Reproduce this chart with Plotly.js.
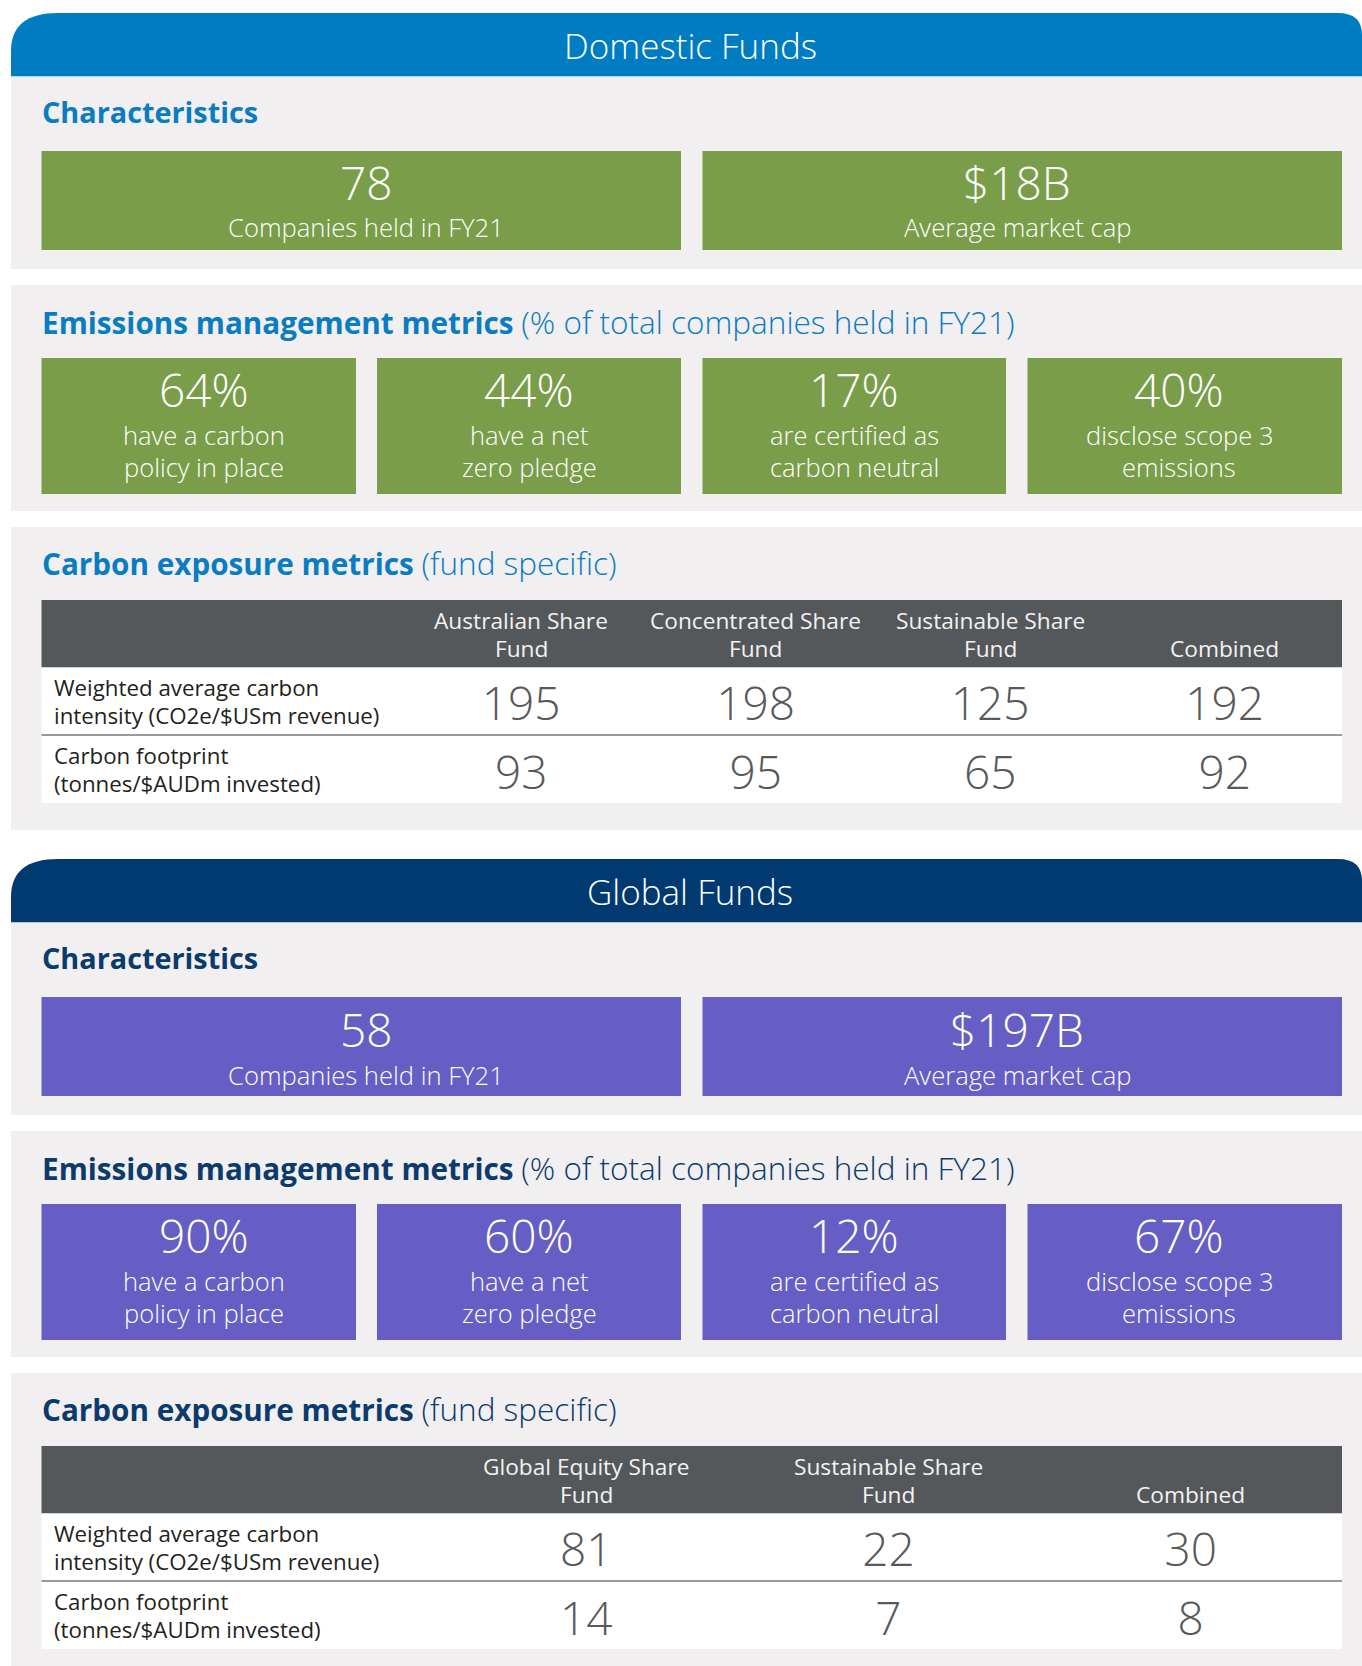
<!DOCTYPE html>
<html><head><meta charset="utf-8">
<script src="https://cdn.plot.ly/plotly-3.0.1.min.js"></script>
<style>html,body{margin:0;padding:0;background:#fff}#chart{width:1362px;height:1666px}</style>
</head><body><div id="chart"></div>
<script>
// ---------------- data ----------------
const sectionTitles = ['Domestic Funds', 'Global Funds'];
const charLabels = ['Companies held in FY21', 'Average market cap'];
const domCharValues = ['78', '$18B'];
const globCharValues = ['58', '$197B'];
const emissionLabels = [
  ['have a carbon', 'policy in place'],
  ['have a net', 'zero pledge'],
  ['are certified as', 'carbon neutral'],
  ['disclose scope 3', 'emissions']
];
const domEmissionPct = [64, 44, 17, 40];
const globEmissionPct = [90, 60, 12, 67];
const domFunds = [['Australian Share', 'Fund'], ['Concentrated Share', 'Fund'], ['Sustainable Share', 'Fund'], ['', 'Combined']];
const globFunds = [['Global Equity Share', 'Fund'], ['Sustainable Share', 'Fund'], ['', 'Combined']];
const metricLabels = [
  ['Weighted average carbon', 'intensity (CO2e/$USm revenue)'],
  ['Carbon footprint', '(tonnes/$AUDm invested)']
];
const domWACI = [195, 198, 125, 192];
const domFootprint = [93, 95, 65, 92];
const globWACI = [81, 22, 30];
const globFootprint = [14, 7, 8];
const subTitleBold = ['Characteristics', 'Emissions management metrics', 'Carbon exposure metrics'];
const subTitleRest = ['', '(% of total companies held in FY21)', '(fund specific)'];

// ---------------- styles / layout constants ----------------
const FONT = '"Open Sans", "Noto Sans", sans-serif';
const W = 1362, H = 1666;
const PANEL_GRAY = '#F1EFF0';
const TABLE_HEAD = '#54585A';
const VALUE_GRAY = '#58595B';
const LABEL_DARK = '#231F20';
const themes = [
  {header: '#007CC3', title: '#0A7CC2', box: '#7A9D4A'},
  {header: '#003A70', title: '#0B3A6C', box: '#665EC4'}
];
const LEFT = 41.5, RIGHT = 1342;
const charBoxes = [[41.5, 681], [702.5, 1342]];
const charCenters = [366, 1017];
const emBoxes = [[41.5, 356], [377, 681], [702.5, 1006], [1027.5, 1342]];
const emCenters = [204, 529, 854, 1179];
const tableCols = [{start: 404, width: 234.5}, {start: 435, width: 302.3}];
const titleSizes = [28.8, 29.7, 29.7];

const shapes = [], annotations = [], traces = [];

function rect(x0, x1, y0, y1, color) {
  shapes.push({type: 'rect', xref: 'x', yref: 'y', x0, x1, y0, y1, fillcolor: color,
    line: {width: 0}, layer: 'below'});
}
function ann(text, x, y, size, color, weight, anchor) {
  annotations.push({text, x, y, xref: 'x', yref: 'y', showarrow: false,
    xanchor: anchor || 'center', yanchor: 'middle',
    font: {family: FONT, size, color, weight: weight || 300}});
}
// place a single text line by its baseline
function annBase(text, x, baseline, size, color, weight, anchor) {
  ann(text, x, baseline - 0.388 * size, size, color, weight, anchor);
}
function textTrace(xs, ys, texts, size, color) {
  traces.push({type: 'scatter', mode: 'text', x: xs, y: ys, text: texts,
    textposition: 'middle center', hoverinfo: 'skip', showlegend: false,
    textfont: {family: FONT, size, color, weight: 300}, cliponaxis: false});
}

function buildSection(si, off, charValues, pct, funds, waci, footprint) {
  const th = themes[si];
  // header with rounded top corners
  const hy0 = 13 + off, hy1 = 76.5 + off;
  shapes.push({type: 'path', xref: 'x', yref: 'y', layer: 'below', fillcolor: th.header, line: {width: 0},
    path: `M 11 ${hy1} L 11 ${hy0 + 38} Q 11 ${hy0} 58 ${hy0} L 1338 ${hy0} Q 1362 ${hy0} 1362 ${hy0 + 22} L 1362 ${hy1} Z`});
  ann(sectionTitles[si], 690, 45 + off, 35, '#FFFFFF');
  // panels
  rect(11, W, 76.5 + off, 269 + off, PANEL_GRAY);
  rect(11, W, 285 + off, 511 + off, PANEL_GRAY);
  rect(11, W, 527 + off, 830 + off, PANEL_GRAY);
  // subtitles
  [111, 321, 562].forEach((y, i) => {
    let txt = '<b>' + subTitleBold[i] + '</b>';
    if (subTitleRest[i]) txt += ' <span style="font-size:31.5px">' + subTitleRest[i] + '</span>';
    ann(txt, 40, y + off, titleSizes[i], th.title, 300, 'left');
  });
  // characteristics boxes
  const g = si ? 1.5 : 0;
  charBoxes.forEach((b, i) => {
    rect(b[0], b[1], 151 + off, 250 + off, th.box);
    annBase(charValues[i], charCenters[i], 199.5 + off + g, 46, '#FFFFFF');
    annBase(charLabels[i], charCenters[i], 237.5 + off + g, 25.6, '#FFFFFF');
  });
  // emissions boxes
  emBoxes.forEach((b, i) => {
    rect(b[0], b[1], 358 + off, 494 + off, th.box);
    annBase(pct[i] + '%', emCenters[i], 407 + off, 46, '#FFFFFF');
    annBase(emissionLabels[i][0], emCenters[i], 444.8 + off, 25.5, '#FFFFFF');
    annBase(emissionLabels[i][1], emCenters[i], 476.4 + off, 25.5, '#FFFFFF');
  });
  // table
  rect(LEFT, RIGHT, 600 + off, 667.5 + off, TABLE_HEAD);
  rect(LEFT, RIGHT, 667.5 + off, 803 + off, '#FFFFFF');
  shapes.push({type: 'line', xref: 'x', yref: 'y', layer: 'below', x0: LEFT, x1: RIGHT,
    y0: 735 + off, y1: 735 + off, line: {color: '#9A9A9A', width: 2}});
  const tc = tableCols[si];
  const centers = funds.map((f, i) => tc.start + tc.width * (i + 0.5));
  funds.forEach((f, i) => {
    if (f[0]) ann(f[0], centers[i], 620 + off, 22.7, '#F2F2F2', 400);
    ann(f[1], centers[i], 648 + off, 22.7, '#F2F2F2', 400);
  });
  const rowLabelY = [[687, 715.5], [755, 783]];
  metricLabels.forEach((m, r) => {
    m.forEach((line, k) => ann(line, 52, rowLabelY[r][k] + off, 22.3, LABEL_DARK, 400, 'left'));
  });
  textTrace(centers, centers.map(() => 708.5 + off), waci.map(String), 46, VALUE_GRAY);
  textTrace(centers, centers.map(() => 777 + off), footprint.map(String), 46, VALUE_GRAY);
}

buildSection(0, 0, domCharValues, domEmissionPct, domFunds, domWACI, domFootprint);
buildSection(1, 846, globCharValues, globEmissionPct, globFunds, globWACI, globFootprint);

const layout = {
  width: W, height: H,
  margin: {l: 0, r: 0, t: 0, b: 0, pad: 0},
  paper_bgcolor: '#FFFFFF', plot_bgcolor: '#FFFFFF',
  xaxis: {range: [0, W], visible: false, fixedrange: true},
  yaxis: {range: [H, 0], visible: false, fixedrange: true},
  showlegend: false,
  shapes, annotations
};
Plotly.newPlot('chart', traces, layout, {staticPlot: true, displayModeBar: false});
</script>
</body></html>
